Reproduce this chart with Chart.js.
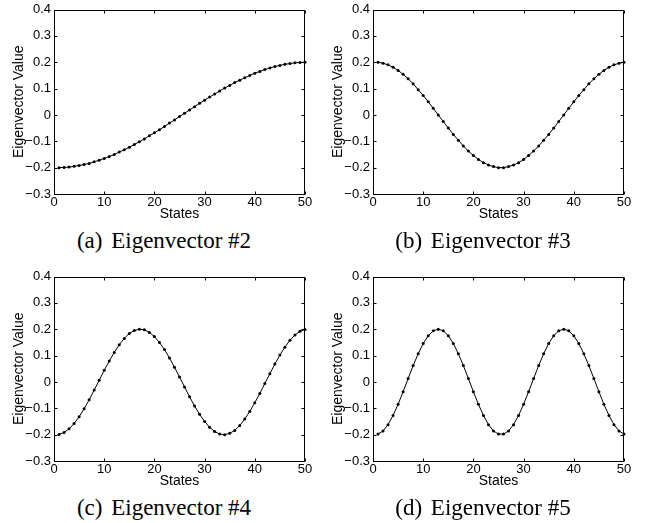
<!DOCTYPE html>
<html lang="en">
<head>
  <meta charset="UTF-8">
  <title>Eigenvectors</title>
  <script src="https://cdn.jsdelivr.net/npm/chart.js"></script>
  <style>
    body {
      margin: 0;
      background: #fff;
    }

    .panel {
      position: absolute;
      width: 330px;
      height: 262px;
    }

    .panel canvas {
      position: absolute;
      left: 0;
      top: 0;
    }

    .caption {
      position: absolute;
      left: 0;
      top: 229px;
      width: 328px;
      text-align: center;
      font-family: "Liberation Serif", serif;
      font-size: 23px;
      line-height: 23px;
      color: #000;
      white-space: nowrap;
    }

    .caption span {
      margin-right: 3px;
    }
  </style>
</head>

<body>
  <div class="panel" style="left:0;top:0">
    <canvas id="ev2" width="320" height="224"></canvas>
    <div class="caption"><span>(a)</span> Eigenvector #2</div>
  </div>
  <div class="panel" style="left:319px;top:0">
    <canvas id="ev3" width="320" height="224"></canvas>
    <div class="caption"><span>(b)</span> Eigenvector #3</div>
  </div>
  <div class="panel" style="left:0;top:267px">
    <canvas id="ev4" width="320" height="224"></canvas>
    <div class="caption"><span>(c)</span> Eigenvector #4</div>
  </div>
  <div class="panel" style="left:319px;top:267px">
    <canvas id="ev5" width="320" height="224"></canvas>
    <div class="caption"><span>(d)</span> Eigenvector #5</div>
  </div>

  <script>
    // values, one per state
    const states = [1, 2, 3, 4, 5, 6, 7, 8, 9, 10,
      11, 12, 13, 14, 15, 16, 17, 18, 19, 20,
      21, 22, 23, 24, 25, 26, 27, 28, 29, 30,
      31, 32, 33, 34, 35, 36, 37, 38, 39, 40,
      41, 42, 43, 44, 45, 46, 47, 48, 49, 50];

    const eig2 = [-0.200, -0.199, -0.198, -0.195, -0.192, -0.188, -0.184, -0.178, -0.172, -0.165,
      -0.158, -0.150, -0.141, -0.132, -0.123, -0.112, -0.102, -0.091, -0.079, -0.068,
      -0.056, -0.044, -0.031, -0.019, -0.006, 0.006, 0.019, 0.031, 0.044, 0.056,
      0.068, 0.079, 0.091, 0.102, 0.112, 0.123, 0.132, 0.141, 0.150, 0.158,
      0.165, 0.172, 0.178, 0.184, 0.188, 0.192, 0.195, 0.198, 0.199, 0.200];

    const eig3 = [0.200, 0.196, 0.190, 0.181, 0.169, 0.154, 0.137, 0.118, 0.096, 0.074,
      0.050, 0.025, 0.000, -0.025, -0.050, -0.074, -0.096, -0.118, -0.137, -0.154,
      -0.169, -0.181, -0.190, -0.196, -0.200, -0.200, -0.196, -0.190, -0.181, -0.169,
      -0.154, -0.137, -0.118, -0.096, -0.074, -0.050, -0.025, 0.000, 0.025, 0.050,
      0.074, 0.096, 0.118, 0.137, 0.154, 0.169, 0.181, 0.190, 0.196, 0.200];

    const eig4 = [-0.199, -0.192, -0.178, -0.158, -0.132, -0.102, -0.068, -0.031, 0.006, 0.044,
      0.079, 0.112, 0.141, 0.165, 0.184, 0.195, 0.200, 0.198, 0.188, 0.172,
      0.150, 0.123, 0.091, 0.056, 0.019, -0.019, -0.056, -0.091, -0.123, -0.150,
      -0.172, -0.188, -0.198, -0.200, -0.195, -0.184, -0.165, -0.141, -0.112, -0.079,
      -0.044, -0.006, 0.031, 0.068, 0.102, 0.132, 0.158, 0.178, 0.192, 0.199];

    const eig5 = [-0.198, -0.186, -0.162, -0.127, -0.085, -0.037, 0.013, 0.062, 0.107, 0.146,
      0.175, 0.194, 0.200, 0.194, 0.175, 0.146, 0.107, 0.062, 0.013, -0.037,
      -0.085, -0.127, -0.162, -0.186, -0.198, -0.198, -0.186, -0.162, -0.127, -0.085,
      -0.037, 0.013, 0.062, 0.107, 0.146, 0.175, 0.194, 0.200, 0.194, 0.175,
      0.146, 0.107, 0.062, 0.013, -0.037, -0.085, -0.127, -0.162, -0.186, -0.198];

    const xTicks = [0, 10, 20, 30, 40, 50];
    const yTicks = [-0.3, -0.2, -0.1, 0, 0.1, 0.2, 0.3, 0.4];

    const FONT = "'Liberation Sans', Arial, sans-serif";

    // matlab style box with ticks pointing inward on all four sides
    const boxTicks = {
      id: "boxTicks",
      afterDraw(chart) {
        const { ctx, chartArea: a, scales: { x, y } } = chart;
        const L = Math.round(a.left) + 0.5;
        const R = Math.round(a.right) - 0.5;
        const T = Math.round(a.top) + 0.5;
        const B = Math.round(a.bottom) + 0.5;
        const len = 3;
        ctx.save();
        ctx.strokeStyle = "#000";
        ctx.lineWidth = 1;
        ctx.beginPath();
        x.ticks.forEach(t => {
          const px = Math.round(x.getPixelForValue(t.value)) + 0.5;
          ctx.moveTo(px, B); ctx.lineTo(px, B - len);
          ctx.moveTo(px, T); ctx.lineTo(px, T + len);
        });
        y.ticks.forEach(t => {
          const py = Math.round(y.getPixelForValue(t.value)) + 0.5;
          ctx.moveTo(L, py); ctx.lineTo(L + len, py);
          ctx.moveTo(R, py); ctx.lineTo(R - len, py);
        });
        ctx.stroke();
        ctx.strokeRect(L, T, R - L, B - T);
        ctx.restore();
      }
    };

    const fmtY = (v) => {
      if (Math.abs(v) < 1e-9) return "0";
      return v.toFixed(1).replace("-", "\u2212");
    };

    const drawPanel = (canvasId, values) => {
      const ctx = document.getElementById(canvasId).getContext("2d");
      new Chart(ctx, {
        type: "line",
        data: {
          datasets: [{
            data: states.map((s, i) => ({ x: s, y: values[i] })),
            borderColor: "#000",
            borderWidth: 1,
            pointRadius: 1.5,
            pointBackgroundColor: "#000",
            pointBorderWidth: 0,
            tension: 0,
            clip: 3,
          }],
        },
        options: {
          responsive: false,
          animation: false,
          layout: { padding: { left: 4, top: 7, right: 15, bottom: 0 } },
          plugins: {
            legend: { display: false },
            tooltip: { enabled: false },
          },
          scales: {
            x: {
              type: "linear",
              min: 0,
              max: 50,
              afterBuildTicks: (s) => { s.ticks = xTicks.map(v => ({ value: v })); },
              afterFit: (s) => { s.height = 30; },
              grid: { display: false, drawTicks: false },
              border: { display: false },
              ticks: {
                color: "#000",
                padding: 2,
                maxRotation: 0,
                font: { family: FONT, size: 13, lineHeight: 1 },
              },
              title: {
                display: true,
                text: "States",
                color: "#000",
                padding: { top: 0, bottom: 3 },
                font: { family: FONT, size: 14, lineHeight: 1 },
              },
            },
            y: {
              min: -0.3,
              max: 0.4,
              afterBuildTicks: (s) => { s.ticks = yTicks.map(v => ({ value: v })); },
              afterFit: (s) => { s.width = 50; },
              grid: { display: false, drawTicks: false },
              border: { display: false },
              ticks: {
                color: "#000",
                padding: 3,
                callback: (v) => fmtY(v),
                font: { family: FONT, size: 13, lineHeight: 1 },
              },
              title: {
                display: true,
                text: "Eigenvector Value",
                color: "#000",
                padding: { top: 8, bottom: 0 },
                font: { family: FONT, size: 14, lineHeight: 1 },
              },
            },
          },
        },
        plugins: [boxTicks],
      });
    };

    drawPanel("ev2", eig2);
    drawPanel("ev3", eig3);
    drawPanel("ev4", eig4);
    drawPanel("ev5", eig5);
  </script>
</body>
</html>
